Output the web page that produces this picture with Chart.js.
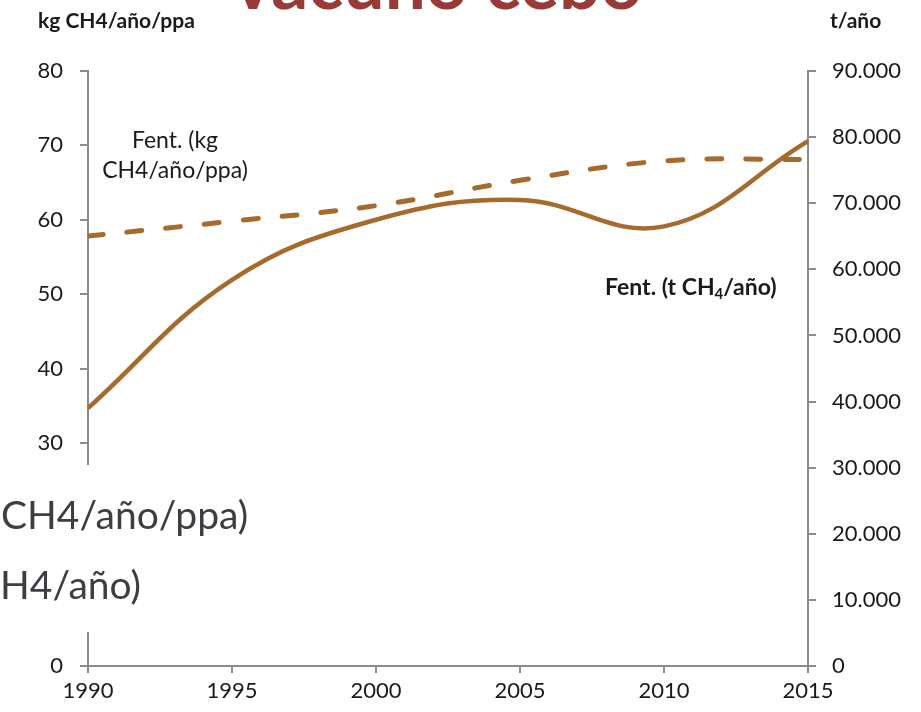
<!DOCTYPE html>
<html>
<head>
<meta charset="utf-8">
<script src="https://cdn.jsdelivr.net/npm/chart.js@4/dist/chart.umd.min.js"></script>
<style>
  html, body { margin: 0; padding: 0; background: #ffffff; }
  #wrap { position: relative; width: 921px; height: 712px; }
</style>
</head>
<body>
<div id="wrap"><canvas id="c" width="921" height="712"></canvas></div>
<script>
// Vacuno cebo: emisiones de CH4 por fermentación entérica
const years = [1990, 1995, 2000, 2005, 2010, 2015];
// Fent. (t CH4/año) – eje derecho
const fentTotal = [39000, 58400, 67500, 70500, 66500, 79400];
// Fent. (kg CH4/año/ppa) – eje izquierdo
const fentPorPlaza = [57.8, 59.8, 61.9, 65.3, 67.9, 68.1];

const leftTicks = { min: 0, max: 80, step: 10 };
const rightTicks = { min: 0, max: 90000, step: 10000 };

const FONT = 'Lato, "Open Sans", "DejaVu Sans", sans-serif';
const BROWN = '#a66a2c';
const AXIS = '#8c8c8c';
const TEXT = '#1a1a1a';

const fmtMiles = v => String(Math.round(v)).replace(/\B(?=(\d{3})+(?!\d))/g, '.');

// Textos superpuestos: título, unidades, rótulos de series y recuadro blanco
const overlay = {
  id: 'overlay',
  afterDraw(chart) {
    const ctx = chart.ctx;
    ctx.save();

    // recuadro blanco que tapa parte del eje izquierdo
    ctx.fillStyle = '#ffffff';
    ctx.fillRect(0, 465, 300, 167);
    ctx.fillStyle = '#3d3d42';
    ctx.textBaseline = 'alphabetic';
    ctx.textAlign = 'left';
    ctx.font = '39px ' + FONT;
    ctx.fillText('CH4/año/ppa)', 1, 529);
    ctx.fillText('H4/año)', 0, 599);

    // título
    ctx.fillStyle = '#983a37';
    ctx.font = 'bold 73px ' + FONT;
    ctx.textAlign = 'center';
    ctx.fillText('vacuno cebo', 438, 9);

    // unidades de los ejes
    ctx.fillStyle = TEXT;
    ctx.font = 'bold 21px ' + FONT;
    ctx.textAlign = 'left';
    ctx.fillText('kg CH4/año/ppa', 38, 28);
    ctx.fillText('t/año', 830, 28);

    // rótulo de la serie discontinua
    ctx.font = '23px ' + FONT;
    ctx.textAlign = 'center';
    ctx.fillText('Fent. (kg', 175, 148);
    ctx.fillText('CH4/año/ppa)', 175, 178);

    // rótulo de la serie continua, con subíndice
    ctx.font = 'bold 23px ' + FONT;
    ctx.textAlign = 'left';
    let x = 605;
    const y = 295;
    const a = 'Fent. (t CH';
    ctx.fillText(a, x, y);
    x += ctx.measureText(a).width;
    ctx.font = 'bold 15px ' + FONT;
    ctx.fillText('4', x, y + 4);
    x += ctx.measureText('4').width;
    ctx.font = 'bold 23px ' + FONT;
    ctx.fillText('/año)', x, y);

    ctx.restore();
  }
};

const axisGrid = {
  display: true,
  drawOnChartArea: false,
  drawTicks: true,
  tickLength: 8,
  color: AXIS,
  lineWidth: 2
};
const tickFont = { family: FONT, size: 22 };

new Chart(document.getElementById('c'), {
  type: 'line',
  data: {
    datasets: [
      {
        label: 'Fent. (t CH4/año)',
        data: years.map((yr, i) => ({ x: yr, y: fentTotal[i] })),
        yAxisID: 'y2',
        borderColor: BROWN,
        borderWidth: 4.5,
        pointRadius: 0,
        tension: 0.4,
        fill: false
      },
      {
        label: 'Fent. (kg CH4/año/ppa)',
        data: years.map((yr, i) => ({ x: yr, y: fentPorPlaza[i] })),
        yAxisID: 'y',
        borderColor: BROWN,
        borderWidth: 5,
        borderDash: [15, 24],
        borderCapStyle: 'round',
        pointRadius: 0,
        tension: 0.4,
        fill: false
      }
    ]
  },
  options: {
    responsive: false,
    animation: false,
    devicePixelRatio: 1,
    layout: { padding: { top: 71, left: 0, right: 0, bottom: 0 } },
    plugins: { legend: { display: false }, tooltip: { enabled: false } },
    scales: {
      x: {
        type: 'linear',
        min: years[0],
        max: years[years.length - 1],
        afterFit: s => { s.height = 46; },
        border: { display: true, color: AXIS, width: 2 },
        grid: Object.assign({}, axisGrid, { tickLength: 7 }),
        ticks: {
          stepSize: 5,
          color: TEXT,
          font: tickFont,
          padding: 5,
          maxRotation: 0,
          callback: v => String(v)
        }
      },
      y: {
        position: 'left',
        min: leftTicks.min,
        max: leftTicks.max,
        afterFit: s => { s.width = 88; },
        border: { display: true, color: AXIS, width: 2 },
        grid: axisGrid,
        ticks: { stepSize: leftTicks.step, color: TEXT, font: tickFont, padding: 17 }
      },
      y2: {
        position: 'right',
        min: rightTicks.min,
        max: rightTicks.max,
        afterFit: s => { s.width = 113; },
        border: { display: true, color: AXIS, width: 2 },
        grid: axisGrid,
        ticks: {
          stepSize: rightTicks.step,
          color: TEXT,
          font: tickFont,
          padding: 16,
          callback: v => fmtMiles(v)
        }
      }
    }
  },
  plugins: [overlay]
});
</script>
</body>
</html>
